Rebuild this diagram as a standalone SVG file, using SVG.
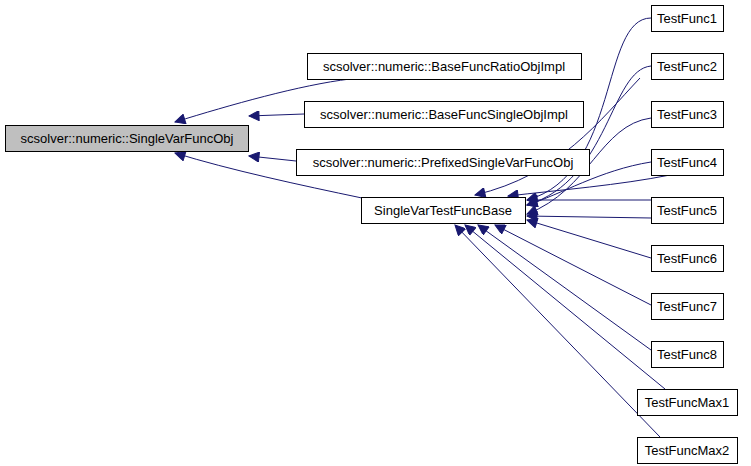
<svg xmlns="http://www.w3.org/2000/svg" width="751" height="466" viewBox="0 0 751 466">
<style>
.n rect{fill:#fff;stroke:#000;stroke-width:1}
.n text{font-family:"Liberation Sans",Arial,sans-serif;font-size:13px;fill:#000;text-anchor:middle}
.e path{fill:none;stroke:#191970;stroke-width:1}
</style>
<defs><marker id="a" viewBox="0 0 10 10" refX="10" refY="5" markerWidth="12" markerHeight="10" orient="auto" markerUnits="userSpaceOnUse"><path d="M0,0L10,5L0,10z" fill="#191970" stroke="#191970"/></marker></defs>
<rect width="751" height="466" fill="#fff"/>
<g class="e">
<path marker-end="url(#a)" d="M350,79C300,85 230,105 175,122"/>
<path marker-end="url(#a)" d="M304,114L249,116"/>
<path marker-end="url(#a)" d="M296,161L249,156"/>
<path marker-end="url(#a)" d="M362,198C300,185 230,170 175,153"/>
<path marker-end="url(#a)" d="M651,18C600,18 620,175 527,200"/>
<path marker-end="url(#a)" d="M651,66C610,70 610,180 527,205"/>
<path marker-end="url(#a)" d="M651,118C600,125 590,190 527,214"/>
<path marker-end="url(#a)" d="M651,162C600,170 560,195 527,205"/>
<path marker-end="url(#a)" d="M651,200L527,200"/>
<path marker-end="url(#a)" d="M651,218L527,216"/>
<path marker-end="url(#a)" d="M651,258L527,220"/>
<path marker-end="url(#a)" d="M651,305L495,225"/>
<path marker-end="url(#a)" d="M651,350L478,225"/>
<path marker-end="url(#a)" d="M665,389L465,225"/>
<path marker-end="url(#a)" d="M660,437L455,225"/>
<path marker-end="url(#a)" d="M640,78C600,120 560,175 475,195"/>
<path marker-end="url(#a)" d="M670,175C620,185 560,190 508,196"/>
</g>
<g id="n0" class="n"><rect x="5.5" y="125.5" width="243" height="26" style="fill:#bfbfbf"/><text x="127" y="143">scsolver::numeric::SingleVarFuncObj</text></g>
<g id="n1" class="n"><rect x="307.5" y="53.5" width="274" height="26"/><text x="444" y="71">scsolver::numeric::BaseFuncRatioObjImpl</text></g>
<g id="n2" class="n"><rect x="304.5" y="101.5" width="279" height="26"/><text x="444" y="119">scsolver::numeric::BaseFuncSingleObjImpl</text></g>
<g id="n3" class="n"><rect x="296.5" y="149.5" width="293" height="26"/><text x="443" y="167">scsolver::numeric::PrefixedSingleVarFuncObj</text></g>
<g id="n4" class="n"><rect x="361.5" y="197.5" width="164" height="26"/><text x="443" y="215">SingleVarTestFuncBase</text></g>
<g id="t1" class="n"><rect x="651.5" y="5.5" width="72" height="26"/><text x="687" y="23">TestFunc1</text></g>
<g id="t2" class="n"><rect x="651.5" y="53.5" width="72" height="26"/><text x="687" y="71">TestFunc2</text></g>
<g id="t3" class="n"><rect x="651.5" y="101.5" width="72" height="26"/><text x="687" y="119">TestFunc3</text></g>
<g id="t4" class="n"><rect x="651.5" y="149.5" width="72" height="26"/><text x="687" y="167">TestFunc4</text></g>
<g id="t5" class="n"><rect x="651.5" y="197.5" width="72" height="26"/><text x="687" y="215">TestFunc5</text></g>
<g id="t6" class="n"><rect x="651.5" y="245.5" width="72" height="26"/><text x="687" y="263">TestFunc6</text></g>
<g id="t7" class="n"><rect x="651.5" y="293.5" width="72" height="26"/><text x="687" y="311">TestFunc7</text></g>
<g id="t8" class="n"><rect x="651.5" y="341.5" width="72" height="26"/><text x="687" y="359">TestFunc8</text></g>
<g id="m1" class="n"><rect x="637.5" y="389.5" width="100" height="26"/><text x="687" y="407">TestFuncMax1</text></g>
<g id="m2" class="n"><rect x="637.5" y="437.5" width="100" height="26"/><text x="687" y="455">TestFuncMax2</text></g>
</svg>
